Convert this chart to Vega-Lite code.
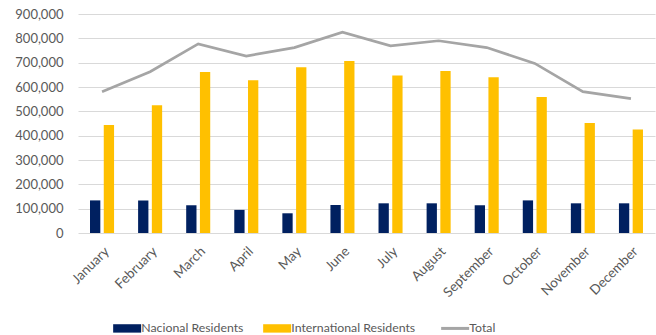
{
  "$schema": "https://vega.github.io/schema/vega-lite/v6.json",
  "autosize": {"type": "none"},
  "width": 577,
  "height": 219,
  "padding": {"left": 78, "top": 14, "right": 1, "bottom": 102},
  "background": "white",
  "config": {
    "font": "Lato",
    "view": {"stroke": null},
    "axis": {"labelFont": "Lato", "labelColor": "#595959", "domain": false, "ticks": false, "gridColor": "#d9d9d9", "gridWidth": 1.2}
  },
  "data": {
    "values": [
      {"month": "January", "nac": 134000, "intl": 444000, "total": 580000},
      {"month": "February", "nac": 134000, "intl": 525000, "total": 663000},
      {"month": "March", "nac": 114000, "intl": 662000, "total": 777000},
      {"month": "April", "nac": 95000, "intl": 628000, "total": 727000},
      {"month": "May", "nac": 81000, "intl": 681000, "total": 762000},
      {"month": "June", "nac": 115000, "intl": 707000, "total": 825000},
      {"month": "July", "nac": 122000, "intl": 647000, "total": 769000},
      {"month": "August", "nac": 122000, "intl": 666000, "total": 790000},
      {"month": "September", "nac": 114000, "intl": 640000, "total": 762000},
      {"month": "October", "nac": 134000, "intl": 559000, "total": 697000},
      {"month": "November", "nac": 122000, "intl": 452000, "total": 581000},
      {"month": "December", "nac": 122000, "intl": 425000, "total": 552000}
    ]
  },
  "encoding": {
    "x": {
      "field": "month", "type": "nominal", "sort": null,
      "scale": {"paddingInner": 0.5, "paddingOuter": 0.25},
      "axis": {"title": null, "labelAngle": -45, "labelFontSize": 13.5, "labelPadding": 11, "grid": false}
    }
  },
  "layer": [
    {
      "transform": [
        {"fold": ["nac", "intl"], "as": ["key", "value"]},
        {"calculate": "datum.key === 'nac' ? 'Nacional Residents' : 'International Residents'", "as": "series"}
      ],
      "mark": {"type": "bar"},
      "encoding": {
        "xOffset": {"field": "series", "type": "nominal", "sort": ["Nacional Residents", "International Residents"], "scale": {"paddingInner": 0.25, "paddingOuter": 0}},
        "y": {
          "field": "value", "type": "quantitative",
          "scale": {"domain": [0, 900000], "nice": false},
          "axis": {"title": null, "format": ",d", "values": [0,100000,200000,300000,400000,500000,600000,700000,800000,900000], "labelOverlap": false, "labelFontSize": 13, "labelPadding": 15}
        },
        "color": {
          "field": "series", "type": "nominal",
          "scale": {"domain": ["Nacional Residents", "International Residents", "Total"], "range": ["#002060", "#FFC000", "#A5A5A5"]},
          "legend": {
            "title": null,
            "orient": "none",
            "direction": "horizontal",
            "legendX": 43,
            "legendY": 308,
            "labelFontSize": 12.3,
            "labelColor": "#595959",
            "labelFont": "Lato",
            "columnPadding": 19,
            "labelOffset": 8,
            "symbolSize": 784,
            "encode": {
              "symbols": {
                "update": {
                  "shape": {"signal": "datum.value === 'Total' ? 'stroke' : 'M-1,-0.3H1V0.3H-1Z'"},
                  "fill": {"scale": "color", "field": "value"},
                  "stroke": {"scale": "color", "field": "value"},
                  "strokeWidth": {"signal": "datum.value === 'Total' ? 3 : 0"},
                  "opacity": {"value": 1}
                }
              }
            }
          }
        }
      }
    },
    {
      "mark": {"type": "line", "strokeWidth": 2.7, "color": "#A5A5A5"},
      "encoding": {
        "y": {
          "field": "total", "type": "quantitative",
          "axis": {"title": null, "format": ",d", "values": [0,100000,200000,300000,400000,500000,600000,700000,800000,900000], "labelOverlap": false, "labelFontSize": 13, "labelPadding": 15}
        },
        "color": {"datum": "Total"}
      }
    }
  ]
}
